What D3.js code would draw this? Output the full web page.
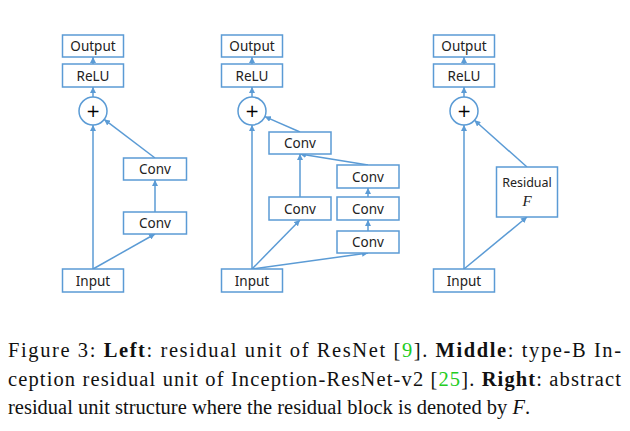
<!DOCTYPE html><html><head><meta charset="utf-8">
<script src="https://cdn.jsdelivr.net/npm/d3@7"></script>
<style>body{margin:0;background:#fff}</style></head><body>
<script>
// boxes: id, label, cx, cy(top), w, h
const boxes = [
  ["L_out","Output",93,35,61,22],["L_relu","ReLU",93,64,61,23],["L_c2","Conv",155,158,63,22],["L_c1","Conv",155,212,63,22],["L_in","Input",93,269,61,23],
  ["M_out","Output",252,35,61,22],["M_relu","ReLU",252,64,61,23],["M_ct","Conv",300,132,62,22],["M_cl","Conv",300,197,62,23],
  ["M_r3","Conv",368,165,62,23],["M_r2","Conv",368,197,62,23],["M_r1","Conv",368,231,62,22],["M_in","Input",252,269,61,23],
  ["R_out","Output",464,35,61,22],["R_relu","ReLU",464,64,61,23],["R_res","Residual",527,167,61,50],["R_in","Input",464,269,61,23]
];
const circles = [["L_add",93,111],["M_add",252,111],["R_add",464,111]];
const edges = [
  ["L_in","L_add"],["L_in","L_c1"],["L_c1","L_c2"],["L_c2","L_add"],["L_add","L_relu"],["L_relu","L_out"],
  ["M_in","M_add"],["M_in","M_cl"],["M_in","M_r1"],["M_r1","M_r2"],["M_r2","M_r3"],["M_cl","M_ct"],["M_r3","M_ct"],["M_ct","M_add"],["M_add","M_relu"],["M_relu","M_out"],
  ["R_in","R_add"],["R_in","R_res"],["R_res","R_add"],["R_add","R_relu"],["R_relu","R_out"]
];
const captionLines = [
  [["Figure 3: ",""],["Left","b"],[": residual unit of ResNet [",""],["9","g"],["].  ",""],["Middle","b"],[": type-B In-",""]],
  [["ception residual unit of Inception-ResNet-v2 [",""],["25","g"],["]. ",""],["Right","b"],[": abstract",""]],
  [["residual unit structure where the residual block is denoted by ",""],["F","i"],[".",""]]
];
const R = 14, col = "#5b9bd5", serif = "'Liberation Serif','Times New Roman',Times,serif";
const svg = d3.select("body").append("svg").attr("width",630).attr("height",431);
svg.append("defs").append("marker").attr("id","ah").attr("viewBox","0 0 6 6").attr("refX",6).attr("refY",3)
  .attr("markerWidth",4).attr("markerHeight",4).attr("orient","auto").append("path").attr("d","M0,0L6,3L0,6z").attr("fill",col);
const pos = {};
boxes.forEach(([id,l,cx,y,w,h])=>pos[id]={type:"b",cx,top:y,bot:y+h});
circles.forEach(([id,cx,cy])=>pos[id]={type:"c",cx,top:cy-R,bot:cy+R,cy});
edges.forEach(([a,b])=>{
  const A=pos[a],B=pos[b];
  const x1=A.cx,y1=A.top;let x2=B.cx,y2=B.bot;
  if(B.type==="c"){const dx=x1-B.cx,dy=y1-B.cy,d=Math.hypot(dx,dy);x2=B.cx+dx/d*R;y2=B.cy+dy/d*R;}
  svg.append("line").attr("x1",x1).attr("y1",y1).attr("x2",x2).attr("y2",y2).attr("stroke",col).attr("stroke-width",1.5).attr("marker-end","url(#ah)");
});
boxes.forEach(([id,l,cx,y,w,h])=>{
  svg.append("rect").attr("x",cx-w/2).attr("y",y).attr("width",w).attr("height",h).attr("fill","#fff").attr("stroke",col).attr("stroke-width",1.5);
});
circles.forEach(([id,cx,cy])=>{
  svg.append("circle").attr("cx",cx).attr("cy",cy).attr("r",R).attr("fill","#fff").attr("stroke",col).attr("stroke-width",1.5);
  svg.append("text").attr("x",cx).attr("y",cy+6).attr("text-anchor","middle").attr("font-family","DejaVu Sans").attr("font-size",17).text("+");
});
const g = svg.append("g").attr("font-family","Noto Sans, sans-serif").attr("font-size",13.5).attr("fill","#222");
boxes.forEach(([id,l,cx,y,w,h])=>{
  if(id==="R_res"){
    g.append("text").attr("x",cx).attr("y",y+20).attr("text-anchor","middle").attr("font-size",12.5).text("Residual");
    g.append("text").attr("x",cx).attr("y",y+39).attr("text-anchor","middle").attr("font-family",serif).attr("font-style","italic").attr("font-size",15).text("F");
  } else g.append("text").attr("x",cx).attr("y",y+h/2+5).attr("text-anchor","middle").text(l);
});
const cap = svg.append("g").attr("font-family",serif).attr("font-size",20.5).attr("fill","#111");
const ys=[357,386,414];
captionLines.forEach((line,i)=>{
  const t=cap.append("text").attr("x",8).attr("y",ys[i]);
  if(i<2) t.attr("textLength",613).attr("lengthAdjust","spacing");
  line.forEach(([s,st])=>{
    const sp=t.append("tspan").text(s);
    if(st==="b") sp.attr("font-weight","bold");
    if(st==="g") sp.attr("fill","#22cc22");
    if(st==="i") sp.attr("font-style","italic");
  });
});
</script></body></html>
